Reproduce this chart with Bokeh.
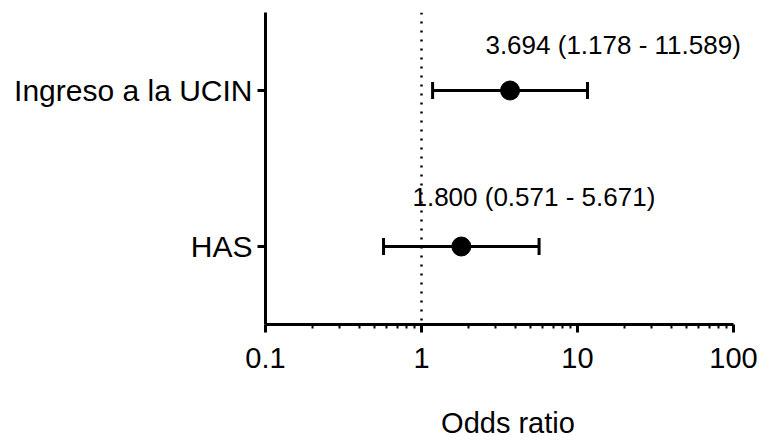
from bokeh.plotting import figure
from bokeh.models import (Range1d, FixedTicker, CustomJSTickFormatter, Whisker,
                          TeeHead, Span, ColumnDataSource, LabelSet)
from bokeh.core.properties import value
from bokeh.embed import file_html
from bokeh.resources import INLINE

# ---- data ----
categories = ["Ingreso a la UCIN", "HAS"]
odds_ratio = [3.694, 1.800]
ci_low = [1.178, 0.571]
ci_high = [11.589, 5.671]
x_ticks = [0.1, 1, 10, 100]

# label anchor placement (x in data units, y offset above the row)
label_x = [2.57, 0.875]
label_dy = [0.29, 0.32]

FONT = "Liberation Sans"

ypos = [len(categories) - i for i in range(len(categories))]
labels = [f"{o:.3f} ({l:.3f} - {h:.3f})" for o, l, h in zip(odds_ratio, ci_low, ci_high)]

src = ColumnDataSource(dict(y=ypos, orv=odds_ratio, lo=ci_low, hi=ci_high,
                            lx=label_x, ly=[y + d for y, d in zip(ypos, label_dy)],
                            txt=labels))

# frame extends a bit past 100 so the top label is not clipped; axis bounded at 100
px_per_decade = 156.0
extra_px = 17.0
x_end = x_ticks[-1] * 10 ** (extra_px / px_per_decade)

p = figure(width=762, height=441, x_axis_type="log",
           x_range=Range1d(x_ticks[0], x_end), y_range=Range1d(0.5, len(categories) + 0.5),
           output_backend="svg", toolbar_location=None,
           min_border_left=265, min_border_right=12, min_border_top=12, min_border_bottom=116)

p.outline_line_color = None
p.grid.visible = False
p.background_fill_color = "white"

# reference line at OR = 1
p.add_layout(Span(location=1, dimension="height", line_color="black",
                  line_width=2.5, line_dash="2 7"))

# error bars
wh = Whisker(source=src, base="y", lower="lo", upper="hi", dimension="width",
             line_color="black", line_width=3,
             upper_head=TeeHead(size=17, line_color="black", line_width=3),
             lower_head=TeeHead(size=17, line_color="black", line_width=3))
p.add_layout(wh)

p.scatter(x="orv", y="y", source=src, size=19, color="black")

p.add_layout(LabelSet(x="lx", y="ly", text="txt", source=src, text_font=value(FONT),
                      text_font_size=value("26px"), text_baseline="middle", text_align="left",
                      text_color="black"))

# x axis
minor = [m * t for t in x_ticks[:-1] for m in range(2, 10)]
xa = p.xaxis[0]
xa.bounds = (x_ticks[0], x_ticks[-1])
xa.ticker = FixedTicker(ticks=x_ticks, minor_ticks=minor)
xa.formatter = CustomJSTickFormatter(code="return String(parseFloat(tick.toPrecision(4)));")
xa.axis_label = "Odds ratio"
xa.axis_label_text_font = FONT
xa.axis_label_text_font_size = "29px"
xa.axis_label_text_font_style = "normal"
xa.axis_label_text_color = "black"
xa.axis_label_standoff = 36
xa.major_label_text_font = FONT
xa.major_label_text_font_size = "29px"
xa.major_label_text_color = "black"
xa.major_label_standoff = 15
xa.axis_line_width = 3
xa.major_tick_line_width = 3
xa.minor_tick_line_width = 2
xa.major_tick_out = 8
xa.major_tick_in = 0
xa.minor_tick_out = 4
xa.minor_tick_in = 0

# y axis
ya = p.yaxis[0]
ya.ticker = FixedTicker(ticks=ypos, minor_ticks=[])
ya.formatter = CustomJSTickFormatter(args=dict(names=categories),
                                     code="return names[names.length - Math.round(tick)];")
ya.major_label_text_font = FONT
ya.major_label_text_font_size = "30px"
ya.major_label_text_color = "black"
ya.major_label_standoff = 5
ya.axis_line_width = 3
ya.major_tick_line_width = 3
ya.major_tick_out = 8
ya.major_tick_in = 0
ya.minor_tick_out = 0

open("out.html", "w").write(file_html(p, INLINE))
